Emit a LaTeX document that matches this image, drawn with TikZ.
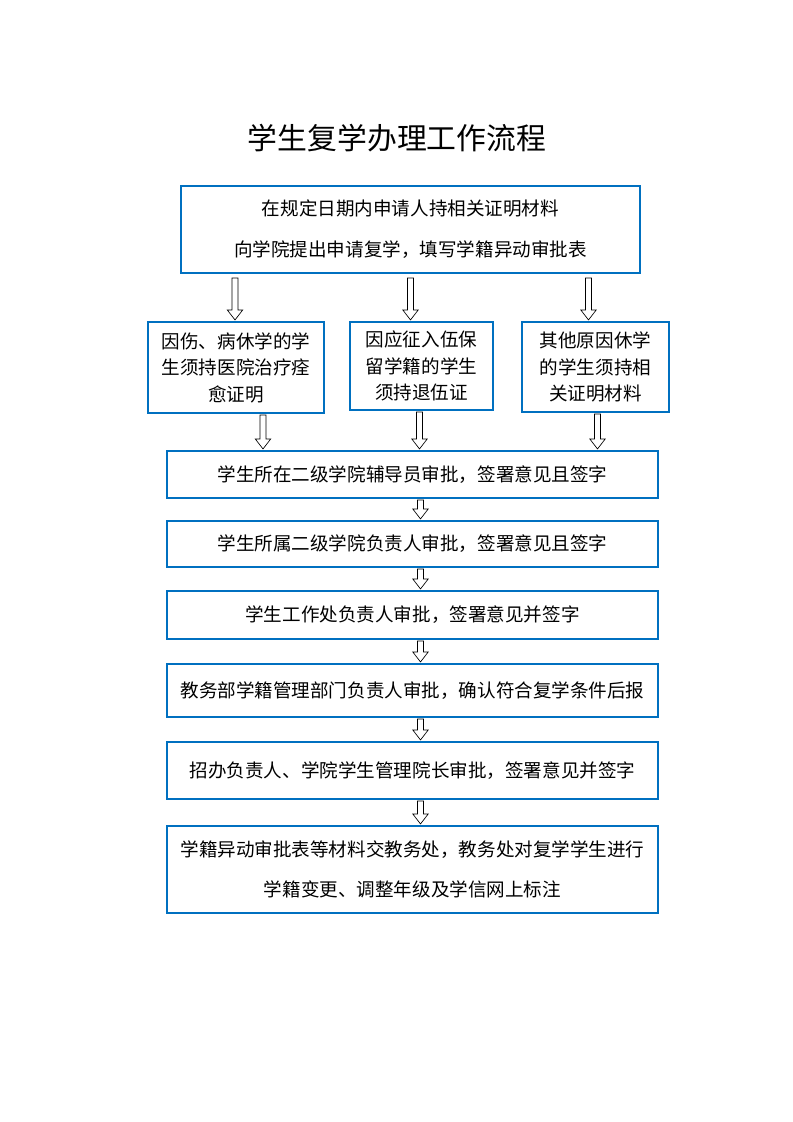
\documentclass[tikz,border=0pt]{standalone}
\usepackage{fontspec}
\setmainfont{Noto Sans CJK SC}
\usetikzlibrary{positioning,calc}
\definecolor{boxblue}{HTML}{0070C0}
\tikzset{
  box/.style={draw=boxblue, line width=1.6pt, align=center, inner sep=0pt, font=\fontsize{14}{31}\selectfont},
  flow/.style={draw=black, line width=0.5pt, fill=white}
}
% hollow block arrow from #1 down to #2
\newcommand{\blockarrow}[2]{%
  \draw[flow] let \p1=#1, \p2=#2 in
    (\x1-2.3pt,\y1) -- (\x1-2.3pt,\y2+7.5pt) -- (\x1-5.8pt,\y2+7.5pt) -- (\x1,\y2)
    -- (\x1+5.8pt,\y2+7.5pt) -- (\x1+2.3pt,\y2+7.5pt) -- (\x1+2.3pt,\y1) -- cycle;}
\begin{document}
\begin{tikzpicture}[x=0.0265cm, y=-0.0265cm]
\useasboundingbox (0,0) rectangle (793,1122);

\node[font=\fontsize{22.5}{26}\selectfont] (title) at (397,138) {学生复学办理工作流程};

\node[box, minimum width=459*0.0265cm, minimum height=87*0.0265cm] (apply) at (410.5,229.5)
  {在规定日期内申请人持相关证明材料\\向学院提出申请复学，填写学籍异动审批表};

\node[box, minimum width=176*0.0265cm, minimum height=91*0.0265cm, font=\fontsize{14}{20}\selectfont] (ill) at (236,367.5)
  {因伤、病休学的学\\生须持医院治疗痊\\愈证明};
\node[box, minimum width=143*0.0265cm, minimum height=88*0.0265cm, font=\fontsize{14}{20}\selectfont] (army) at (421.5,366)
  {因应征入伍保\\留学籍的学生\\须持退伍证};
\node[box, minimum width=147*0.0265cm, minimum height=90*0.0265cm, font=\fontsize{14}{20}\selectfont] (other) at (595.5,367)
  {其他原因休学\\的学生须持相\\关证明材料};

\node[box, minimum width=491*0.0265cm, minimum height=47*0.0265cm] (tutor) at (412.5,474.5)
  {学生所在二级学院辅导员审批，签署意见且签字};
\node[box, minimum width=491*0.0265cm, minimum height=46*0.0265cm] (dean) at (412.5,544)
  {学生所属二级学院负责人审批，签署意见且签字};
\node[box, minimum width=491*0.0265cm, minimum height=48*0.0265cm] (office) at (412.5,615)
  {学生工作处负责人审批，签署意见并签字};
\node[box, minimum width=491*0.0265cm, minimum height=53*0.0265cm] (registry) at (412.5,690.5)
  {教务部学籍管理部门负责人审批，确认符合复学条件后报};
\node[box, minimum width=491*0.0265cm, minimum height=57*0.0265cm] (head) at (412.5,770.5)
  {招办负责人、学院学生管理院长审批，签署意见并签字};
\node[box, minimum width=491*0.0265cm, minimum height=87*0.0265cm, font=\fontsize{14}{30}\selectfont] (final) at (412.5,869.5)
  {学籍异动审批表等材料交教务处，教务处对复学学生进行\\学籍变更、调整年级及学信网上标注};

% arrows
\blockarrow{($(apply.south -| ill.north)+(-1,4)$)}{($(ill.north)+(-1,-1)$)}
\blockarrow{($(apply.south -| army.north)+(-11,4)$)}{($(army.north)+(-11,-1)$)}
\blockarrow{($(apply.south -| other.north)+(-7,4)$)}{($(other.north)+(-7,-1)$)}
\blockarrow{($(ill.south)+(27,1)$)}{($(tutor.north -| ill.south)+(27,-1)$)}
\blockarrow{($(army.south)+(-2,1)$)}{($(tutor.north -| army.south)+(-2,-1)$)}
\blockarrow{($(other.south)+(2,1)$)}{($(tutor.north -| other.south)+(2,-1)$)}
\foreach \u/\v in {tutor/dean, dean/office, office/registry, registry/head, head/final}
  {\blockarrow{($(\u.south)+(8,1)$)}{($(\v.north)+(8,-1)$)}}
\end{tikzpicture}
\end{document}
